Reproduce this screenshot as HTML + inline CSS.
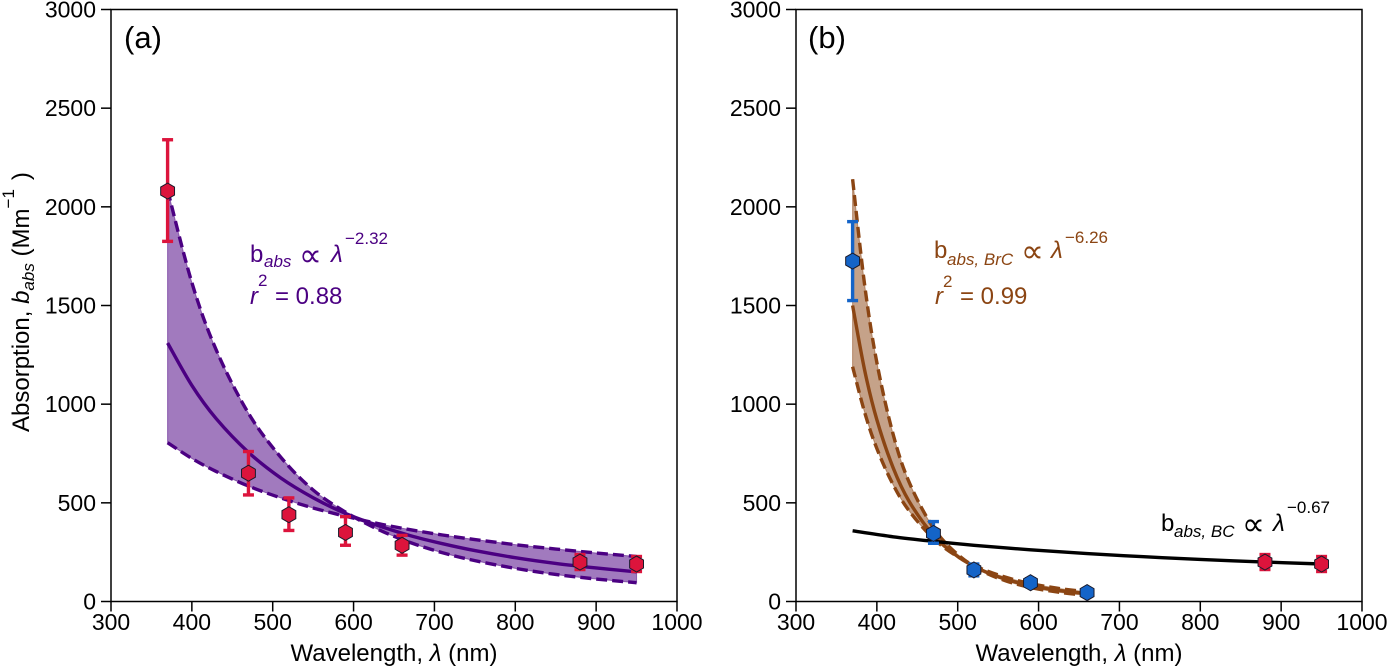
<!DOCTYPE html>
<html lang="en">
<head>
<meta charset="utf-8">
<title>Absorption versus wavelength</title>
<style>
html,body{margin:0;padding:0;background:#fff;width:1387px;height:666px;overflow:hidden}
svg{display:block}
text{font-family:"Liberation Sans","DejaVu Sans",sans-serif;fill:#000}
.tick{font-size:23px}
.axis{font-size:24px}
.ann{font-size:24px}
.prop{font-size:32px}
i,.it{font-style:italic}
</style>
</head>
<body>
<svg id="chart" xmlns="http://www.w3.org/2000/svg" width="1387" height="666" viewBox="0 0 1387 666">
  <rect width="1387" height="666" fill="#fff"/>
  <g id="layer-a"></g>
  <g id="layer-b"></g>

  <text x="124" y="48" font-size="31">(a)</text>
  <text x="808" y="48" font-size="31">(b)</text>

  <text class="axis" x="394" y="661" text-anchor="middle">Wavelength, <tspan class="it">λ</tspan> (nm)</text>
  <text class="axis" x="1079" y="661" text-anchor="middle">Wavelength, <tspan class="it">λ</tspan> (nm)</text>

  <text class="axis" transform="translate(29,432) rotate(-90)">Absorption, <tspan class="it">b</tspan><tspan class="it" font-size="17" dy="5">abs</tspan><tspan dy="-5"> (Mm</tspan><tspan font-size="17" dy="-15">−1</tspan><tspan dy="15" dx="9">)</tspan></text>

  <g>
    <text class="ann" x="250" y="262" style="fill:#4b0082">b</text>
    <text class="it" font-size="17" x="264" y="267" style="fill:#4b0082">abs</text>
    <text class="prop" x="299" y="266" style="fill:#4b0082">∝</text>
    <text class="ann it" x="331" y="262" style="fill:#4b0082">λ</text>
    <text font-size="17" x="345" y="244" style="fill:#4b0082">−2.32</text>
    <text class="ann it" x="250" y="304" style="fill:#4b0082">r</text>
    <text font-size="17" x="258" y="286" style="fill:#4b0082">2</text>
    <text class="ann" x="275" y="304" style="fill:#4b0082">= 0.88</text>
  </g>
  <g>
    <text class="ann" x="934" y="258" style="fill:#8b4513">b</text>
    <text class="it" font-size="17" x="947" y="265" style="fill:#8b4513">abs, BrC</text>
    <text class="prop" x="1021" y="262" style="fill:#8b4513">∝</text>
    <text class="ann it" x="1051" y="258" style="fill:#8b4513">λ</text>
    <text font-size="17" x="1065" y="243" style="fill:#8b4513">−6.26</text>
    <text class="ann it" x="935" y="304" style="fill:#8b4513">r</text>
    <text font-size="17" x="943" y="287" style="fill:#8b4513">2</text>
    <text class="ann" x="960" y="304" style="fill:#8b4513">= 0.99</text>
  </g>
  <g>
    <text class="ann" x="1161" y="531">b</text>
    <text class="it" font-size="17" x="1174" y="537">abs, BC</text>
    <text class="prop" x="1242" y="535">∝</text>
    <text class="ann it" x="1273" y="531">λ</text>
    <text font-size="17" x="1287" y="513">−0.67</text>
  </g>
</svg>
<script>
// ---- shared axis ticks ----
const xTickLabels = [300, 400, 500, 600, 700, 800, 900, 1000];
const yTickLabels = [0, 500, 1000, 1500, 2000, 2500, 3000];

// ---- panel (a) fit curves ----
const aFitWavelengths = [370, 400, 430, 470, 510, 550, 590, 630, 670, 710, 750, 800, 850, 900, 950];
const aFitCenter = [1310, 1095, 927, 756, 626, 526, 446, 385, 334, 293, 258, 222, 193, 170, 150];
const aFitSteep = [2085, 1616, 1276, 954, 731, 565, 453, 366, 299, 247, 207, 168, 137, 114, 95];
const aFitShallow = [805, 725, 659, 585, 525, 474, 432, 395, 364, 337, 314, 288, 266, 246, 228];

// ---- panel (a) measurements ----
const aWavelengths = [370, 470, 520, 590, 660, 880, 950];
const aValues = [2080, 650, 440, 350, 285, 200, 190];
const aErrLow = [1825, 540, 360, 285, 235, 162, 152];
const aErrHigh = [2340, 760, 525, 430, 335, 238, 228];

// ---- panel (b) BrC fit curves ----
const bFitWavelengths = [370, 385, 400, 420, 440, 470, 500, 530, 560, 590, 625, 660];
const bFitCenter = [1500, 1170, 921, 679, 507, 336, 228, 158, 112, 81, 56, 40];
const bFitSteep = [2140, 1601, 1211, 849, 604, 373, 238, 155, 104, 71, 47, 31];
const bFitShallow = [1190, 957, 775, 593, 459, 319, 227, 165, 122, 91, 66, 49];

// ---- panel (b) BC fit curve ----
const bcWavelengths = [370, 420, 470, 520, 590, 660, 730, 800, 880, 950];
const bcValues = [358, 328, 305, 285, 262, 243, 227, 213, 200, 190];

// ---- panel (b) measurements ----
const bBlueWavelengths = [370, 470, 520, 590, 660];
const bBlueValues = [1725, 345, 160, 95, 45];
const bBlueErrLow = [1525, 295, 130, 75, 30];
const bBlueErrHigh = [1925, 405, 190, 115, 60];
const bRedWavelengths = [880, 950];
const bRedValues = [200, 190];
const bRedErrLow = [162, 152];
const bRedErrHigh = [238, 228];

const NS = 'http://www.w3.org/2000/svg';
const X_MIN = 300, X_MAX = 1000, Y_MIN = 0, Y_MAX = 3000;
const PLOT_TOP = 9.5, PLOT_BOTTOM = 601.5, PLOT_WIDTH = 566;

function make(parent, tag, attrs) {
  const el = document.createElementNS(NS, tag);
  for (const k in attrs) el.setAttribute(k, attrs[k]);
  parent.appendChild(el);
  return el;
}
function yScale(v) {
  return PLOT_BOTTOM - (v - Y_MIN) / (Y_MAX - Y_MIN) * (PLOT_BOTTOM - PLOT_TOP);
}
function xScaleFor(left) {
  return function (v) { return left + (v - X_MIN) / (X_MAX - X_MIN) * PLOT_WIDTH; };
}
function smoothPath(pts, move) {
  let d = (move ? 'M' : 'L') + pts[0][0].toFixed(2) + ' ' + pts[0][1].toFixed(2);
  for (let i = 0; i < pts.length - 1; i++) {
    const p0 = pts[Math.max(i - 1, 0)], p1 = pts[i], p2 = pts[i + 1], p3 = pts[Math.min(i + 2, pts.length - 1)];
    const c1 = [p1[0] + (p2[0] - p0[0]) / 6, p1[1] + (p2[1] - p0[1]) / 6];
    const c2 = [p2[0] - (p3[0] - p1[0]) / 6, p2[1] - (p3[1] - p1[1]) / 6];
    d += 'C' + c1[0].toFixed(2) + ' ' + c1[1].toFixed(2) + ' ' + c2[0].toFixed(2) + ' ' + c2[1].toFixed(2) + ' ' + p2[0].toFixed(2) + ' ' + p2[1].toFixed(2);
  }
  return d;
}
function toPoints(xs, ys, sx) {
  return xs.map(function (x, i) { return [sx(x), yScale(ys[i])]; });
}
function hexagon(cx, cy, r) {
  const out = [];
  for (let k = 0; k < 6; k++) {
    const a = Math.PI / 2 + k * Math.PI / 3;
    out.push((cx + r * Math.cos(a)).toFixed(2) + ',' + (cy + r * Math.sin(a)).toFixed(2));
  }
  return out.join(' ');
}

function drawFrame(g, sx, left) {
  const frame = make(g, 'rect', { x: left, y: PLOT_TOP, width: PLOT_WIDTH, height: PLOT_BOTTOM - PLOT_TOP, fill: 'none', stroke: '#000', 'stroke-width': 1.5 });
  
  
  xTickLabels.forEach(function (t) {
    const mark = make(g, 'line', { x1: sx(t), x2: sx(t), y1: PLOT_BOTTOM, y2: PLOT_BOTTOM + 10, stroke: '#000', 'stroke-width': 1.5 });
    
    
    const label = make(g, 'text', { x: sx(t), y: 630, 'text-anchor': 'middle', class: 'tick' });
    label.textContent = t;
    
    
  });
  yTickLabels.forEach(function (t) {
    const mark = make(g, 'line', { x1: left - 10, x2: left, y1: yScale(t), y2: yScale(t), stroke: '#000', 'stroke-width': 1.5 });
    
    
    const label = make(g, 'text', { x: left - 15, y: yScale(t) + 8, 'text-anchor': 'end', class: 'tick' });
    label.textContent = t;
    
    
  });
}

function drawBand(g, xs, center, steep, shallow, sx, color, opacity) {
  const steepPts = toPoints(xs, steep, sx);
  const shallowPts = toPoints(xs, shallow, sx).reverse();
  const band = make(g, 'path', { d: smoothPath(steepPts, true) + smoothPath(shallowPts, false) + 'Z', fill: color, 'fill-opacity': opacity, stroke: color, 'stroke-opacity': 0.5, 'stroke-width': 1 });
  
  
  const steepLine = make(g, 'path', { d: smoothPath(steepPts, true), fill: 'none', stroke: color, 'stroke-width': 3.4, 'stroke-dasharray': '11 5' });
  
  
  const shallowLine = make(g, 'path', { d: smoothPath(toPoints(xs, shallow, sx), true), fill: 'none', stroke: color, 'stroke-width': 3.4, 'stroke-dasharray': '11 5' });
  
  
  const centerLine = make(g, 'path', { d: smoothPath(toPoints(xs, center, sx), true), fill: 'none', stroke: color, 'stroke-width': 3.4 });
  
  
}

function drawPoints(g, xs, ys, lows, highs, sx, color) {
  xs.forEach(function (x, i) {
    const px = sx(x);
    const stem = make(g, 'line', { x1: px, x2: px, y1: yScale(lows[i]), y2: yScale(highs[i]), stroke: color, 'stroke-width': 3.4 });
    
    
    const capLow = make(g, 'line', { x1: px - 5.5, x2: px + 5.5, y1: yScale(lows[i]), y2: yScale(lows[i]), stroke: color, 'stroke-width': 3.4 });
    
    
    const capHigh = make(g, 'line', { x1: px - 5.5, x2: px + 5.5, y1: yScale(highs[i]), y2: yScale(highs[i]), stroke: color, 'stroke-width': 3.4 });
    
    
  });
  xs.forEach(function (x, i) {
    const mark = make(g, 'polygon', { points: hexagon(sx(x), yScale(ys[i]), 8), fill: color, stroke: '#1a1a2a', 'stroke-width': 1 });
    
    
  });
}

const CRIMSON = '#dc143c', INDIGO = '#4b0082', BROWN = '#8b4513', BLUE = '#1464c8';

const gA = document.getElementById('layer-a');
const sxA = xScaleFor(111);
drawFrame(gA, sxA, 111);
drawBand(gA, aFitWavelengths, aFitCenter, aFitSteep, aFitShallow, sxA, INDIGO, 0.52);
drawPoints(gA, aWavelengths, aValues, aErrLow, aErrHigh, sxA, CRIMSON);

const gB = document.getElementById('layer-b');
const sxB = xScaleFor(796);
drawFrame(gB, sxB, 796);
drawBand(gB, bFitWavelengths, bFitCenter, bFitSteep, bFitShallow, sxB, BROWN, 0.5);
const bcLine = make(gB, 'path', { d: smoothPath(toPoints(bcWavelengths, bcValues, sxB), true), fill: 'none', stroke: '#000', 'stroke-width': 3.4 });


drawPoints(gB, bBlueWavelengths, bBlueValues, bBlueErrLow, bBlueErrHigh, sxB, BLUE);
drawPoints(gB, bRedWavelengths, bRedValues, bRedErrLow, bRedErrHigh, sxB, CRIMSON);
</script>
</body>
</html>
